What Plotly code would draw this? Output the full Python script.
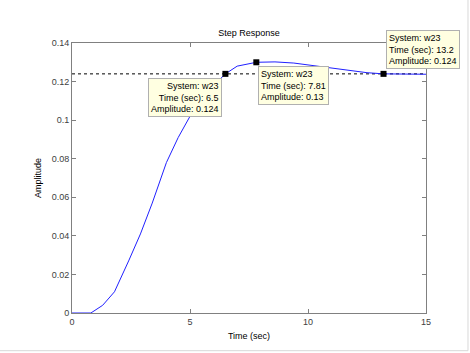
import plotly.graph_objects as go

# Step response data (system w23)
time_sec = [0, 0.8, 1.3, 1.8, 2.4, 2.9, 3.4, 4.0, 4.5, 5.0, 5.5, 6.0, 6.5, 7.0, 7.81,
            8.6, 9.4, 10.2, 11.0, 11.8, 12.5, 13.2, 14.0, 15.0]
amplitude = [0, 0, 0.004, 0.011, 0.027, 0.041, 0.057, 0.078, 0.091, 0.102, 0.111, 0.118,
             0.124, 0.128, 0.130, 0.1302, 0.1296, 0.1283, 0.1268, 0.1255, 0.1246, 0.124,
             0.1238, 0.1238]

steady_state = 0.124
tip_times = [6.5, 7.81, 13.2]
tip_amps = [0.124, 0.13, 0.124]
tip_labels = ["System: w23<br>Time (sec): 6.5<br>Amplitude: 0.124",
              "System: w23<br>Time (sec): 7.81<br>Amplitude: 0.13",
              "System: w23<br>Time (sec): 13.2<br>Amplitude: 0.124"]
# box anchor positions (paper coords)
box_x = [0.4229, 0.5263, 0.887]
box_y = [0.8704, 0.9133, 1.049]
box_xanchor = ["right", "left", "left"]
box_align = ["right", "left", "left"]

x_ticks = [0, 5, 10, 15]
y_ticks = [0, 0.02, 0.04, 0.06, 0.08, 0.1, 0.12, 0.14]
y_tick_text = ["0", "0.02", "0.04", "0.06", "0.08", "0.1", "0.12", "0.14"]

FONT = "Liberation Sans, Arial, sans-serif"

fig = go.Figure()
fig.add_trace(go.Scatter(x=[0, 15], y=[steady_state, steady_state], mode="lines",
                         line=dict(color="black", width=1, dash="dot"),
                         hoverinfo="skip", showlegend=False))
fig.add_trace(go.Scatter(x=time_sec, y=amplitude, mode="lines",
                         line=dict(color="#2020ff", width=1), showlegend=False))
fig.add_trace(go.Scatter(x=tip_times, y=tip_amps, mode="markers",
                         marker=dict(symbol="square", size=6, color="black"),
                         showlegend=False, cliponaxis=False))

for xx, yy, txt, xa, al in zip(box_x, box_y, tip_labels, box_xanchor, box_align):
    fig.add_annotation(x=xx, y=yy, xref="paper", yref="paper", text=txt, showarrow=False,
                       xanchor=xa, yanchor="top", align=al,
                       font=dict(family=FONT, size=9, color="black"),
                       bgcolor="#ffffe1", bordercolor="#b0b0b0", borderwidth=1,
                       borderpad=2)

# light outer frame of the figure window
fig.add_shape(type="rect", xref="paper", yref="paper", x0=-0.5, x1=1.1186,
              y0=-0.1396, y1=1.5, line=dict(color="#d8d8d8", width=1),
              fillcolor="rgba(0,0,0,0)", layer="below")

axis_common = dict(showgrid=False, zeroline=False, showline=True, linecolor="#808080",
                   linewidth=1, mirror="ticks", ticks="inside", ticklen=4,
                   tickcolor="#808080",
                   tickfont=dict(family=FONT, size=9, color="#404040"))

fig.update_layout(
    width=470, height=353,
    margin=dict(l=72, r=44, t=43, b=40),
    paper_bgcolor="white", plot_bgcolor="white",
    title=dict(text="Step Response", x=(72 + 426) / 2 / 470, xanchor="center",
               y=1 - 33 / 353, yanchor="middle",
               font=dict(family=FONT, size=9, color="black")),
    xaxis=dict(range=[0, 15], tickvals=x_ticks,
               title=dict(text="Time (sec)", font=dict(family=FONT, size=9, color="black"),
                          standoff=6),
               **axis_common),
    yaxis=dict(range=[0, 0.14], tickvals=y_ticks, ticktext=y_tick_text,
               title=dict(text="Amplitude", font=dict(family=FONT, size=9, color="black"),
                          standoff=8),
               **axis_common),
    showlegend=False,
)

fig.write_html("out.html")
